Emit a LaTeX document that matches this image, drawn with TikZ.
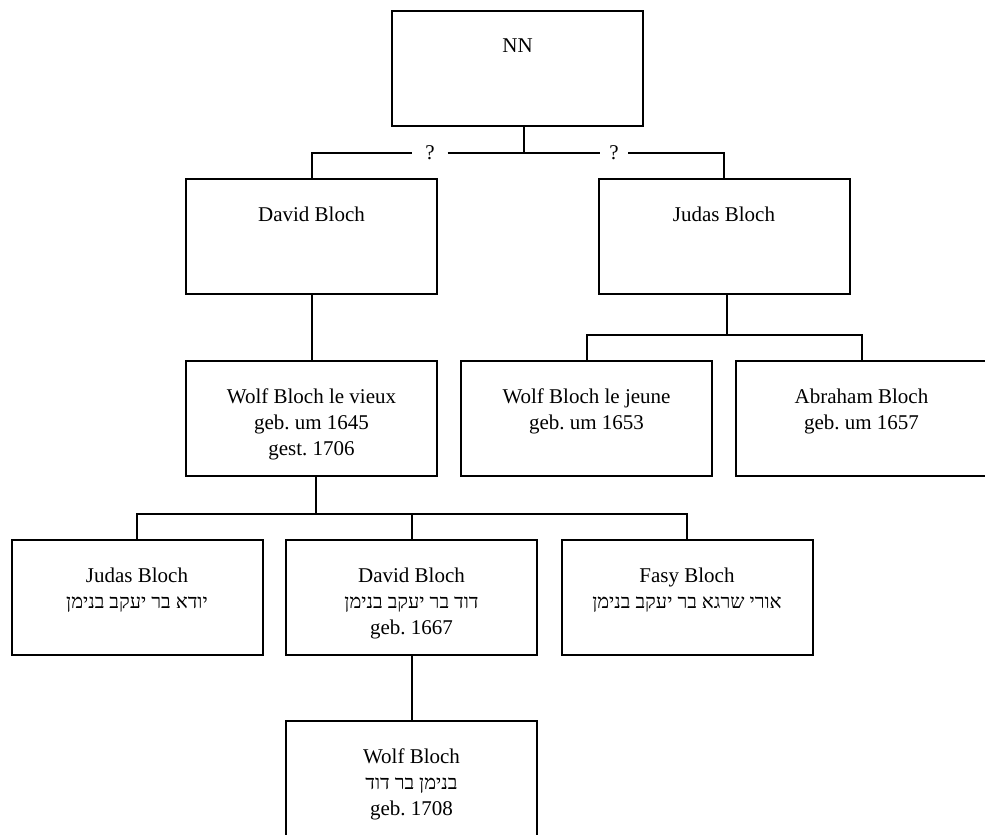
\documentclass[tikz,border=0pt]{standalone}
\usepackage{fontspec}
\setmainfont{Liberation Serif}
\newfontfamily\hebfont[Script=Hebrew]{Liberation Serif}
\TeXXeTstate=1
\frenchspacing
\newcommand\hebline[1]{{\hebfont\fontsize{20}{26}\selectfont\beginR #1\endR}}
\begin{document}
\begin{tikzpicture}[x=1pt,y=-1pt,
  box/.style={draw, line width=2pt, minimum width=251pt, minimum height=115pt, inner sep=0pt, outer sep=0pt},
  txt/.style={anchor=north, align=center, inner sep=0pt, font=\fontsize{21}{26}\selectfont\frenchspacing},
  qm/.style={inner sep=0pt, font=\fontsize{21}{26}\selectfont},
  conn/.style={line width=2pt}]
\useasboundingbox (0,0) rectangle (985,835);
\clip (0,0) rectangle (985,835);
% boxes
\node[box] (nn)  at (517.5,68.5) {};
\node[box] (d1)  at (311.5,236.5) {};
\node[box] (j1)  at (724,236) {};
\node[box] (wv)  at (311.5,418.5) {};
\node[box] (wj)  at (586.5,418) {};
\node[box] (ab)  at (861.5,418) {};
\node[box] (jd2) at (137,597.5) {};
\node[box] (dv2) at (411.5,597.5) {};
\node[box] (fa)  at (687,597.5) {};
\node[box, minimum height=130pt] (wf) at (411.5,786) {};
% texts
\node[txt] (nnT)  at ([yshift=-28pt]nn.north) {NN};
\node[txt] (d1T)  at ([yshift=-28pt]d1.north) {David Bloch};
\node[txt] (j1T)  at ([yshift=-28pt]j1.north) {Judas Bloch};
\node[txt] (wvT)  at ([yshift=-28pt]wv.north) {Wolf Bloch le vieux\\geb. um 1645\\gest. 1706};
\node[txt] (wjT)  at ([yshift=-28pt]wj.north) {Wolf Bloch le jeune\\geb. um 1653};
\node[txt] (abT)  at ([yshift=-28pt]ab.north) {Abraham Bloch\\geb. um 1657};
\node[txt] (jd2T) at ([yshift=-28pt]jd2.north) {Judas Bloch\\\hebline{יודא בר יעקב בנימן}};
\node[txt] (dv2T) at ([yshift=-28pt]dv2.north) {David Bloch\\\hebline{דוד בר יעקב בנימן}\\geb. 1667};
\node[txt] (faT)  at ([yshift=-28pt]fa.north) {Fasy Bloch\\\hebline{אורי שרגא בר יעקב בנימן}};
\node[txt] (wfT)  at ([yshift=-28pt]wf.north) {Wolf Bloch\\\hebline{בנימן בר דוד}\\geb. 1708};
% top connectors with question marks
\node[qm, minimum width=35pt] (q1) at (430,153) {?};
\node[qm, minimum width=28pt] (q2) at (614,153) {?};
\coordinate (nnb) at (524,153);
\draw[conn] (nnb |- nn.south) -- (nnb);
\draw[conn] (d1.north) |- (q1.west);
\draw[conn] (q1.east) -- (q2.west);
\draw[conn] (q2.east) -| (j1.north);
% David -> Wolf le vieux
\draw[conn] (d1.south) -- (wv.north);
% Judas -> children
\coordinate (jb) at (727,335);
\draw[conn] (jb |- j1.south) -- (jb);
\draw[conn] (wj.north) |- (jb) -| (ab.north);
% Wolf le vieux -> children
\coordinate (wb) at (316,514);
\draw[conn] (wb |- wv.south) -- (wb);
\draw[conn] (jd2.north) |- (wb) -| (fa.north);
\draw[conn] (dv2.north) -- (dv2.north |- wb);
% David -> Wolf Bloch
\draw[conn] (dv2.south) -- (wf.north);
\end{tikzpicture}
\end{document}
